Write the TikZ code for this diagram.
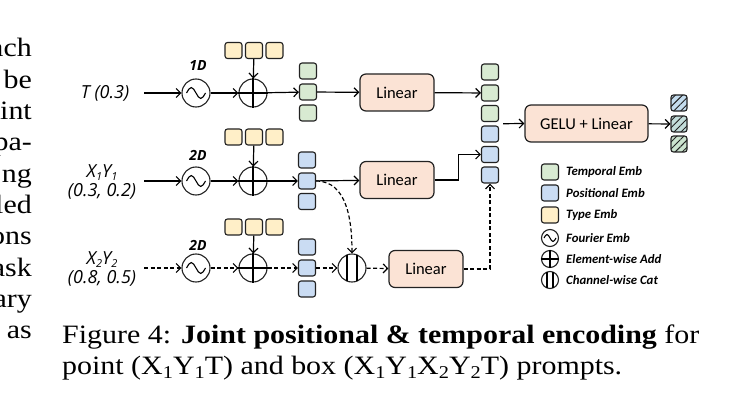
\documentclass[tikz,border=0pt]{standalone}
\usepackage{fontspec}
\setmainfont{Liberation Serif}
\newfontfamily\diafont{Carlito}
\newfontfamily\handfont{Open Sans}
\newfontfamily\capfont[FakeStretch=1.13]{Liberation Serif}
\usetikzlibrary{arrows.meta,calc,patterns.meta}
\definecolor{edge}{HTML}{222222}
\definecolor{tempc}{HTML}{D8EAD2}
\definecolor{posc}{HTML}{CADCF3}
\definecolor{typec}{HTML}{FFEFC8}
\definecolor{linc}{HTML}{FBE3D5}
\definecolor{outa}{HTML}{C4DCEE}
\definecolor{outb}{HTML}{C3DDDA}
\definecolor{outc}{HTML}{CBE3CE}
\newcommand\subn[1]{\raisebox{-3pt}{\fontsize{11}{11}\selectfont#1}}
\newcommand\csub[1]{\raisebox{-4.5pt}{\fontsize{18}{18}\selectfont#1}}
\newcommand\fwave[3]{\draw[line width=1.1pt] ($(#1)+(-#2,0)$) sin ++(#2/2,-#3) cos ++(#2/2,#3) sin ++(#2/2,#3) cos ++(#2/2,-#3);}
\tikzset{
  emb/.style={draw=edge, line width=1.1pt, rounded corners=2.5pt, minimum width=17pt, minimum height=16pt, inner sep=0pt},
  tmpemb/.style={emb, fill=tempc},
  posemb/.style={emb, fill=posc},
  typemb/.style={emb, fill=typec},
  outemb/.style={emb, minimum width=16pt, preaction={fill=#1}, pattern={Lines[angle=45,distance=5pt,line width=0.9pt]}, pattern color=edge},
  linbox/.style={draw=edge, fill=linc, line width=1.2pt, rounded corners=6pt, minimum width=74pt, minimum height=37pt, font=\diafont\fontsize{16.5}{16.5}\selectfont},
  op/.style={circle, draw=edge, line width=1.1pt, minimum size=28pt, inner sep=0pt},
  lop/.style={op, minimum size=17pt},
  arr/.style={draw=black, line width=1.2pt, -{Straight Barb[length=4.5pt,width=9pt]}},
  darr/.style={arr, dash pattern=on 4pt off 2.5pt},
  lab/.style={font=\handfont\itshape\fontsize{18}{19}\selectfont, align=center, inner sep=0pt},
  dimlab/.style={font=\handfont\bfseries\itshape\fontsize{14}{14}\selectfont, inner sep=0pt},
  legtxt/.style={anchor=west, font=\diafont\bfseries\itshape\fontsize{12.8}{12.8}\selectfont, inner sep=0pt},
  body/.style={font=\capfont\fontsize{26.5}{31}\selectfont, inner sep=0pt},
}
\begin{document}
\begin{tikzpicture}[x=1pt,y=-1pt]
  \useasboundingbox (0,0) rectangle (745,417);

  % neighbouring column
  \node[body,anchor=base east] at (32,57) {ach};
  \node[body,anchor=base east] at (32,88.3) {be};
  \node[body,anchor=base east] at (32,119.6) {int};
  \node[body,anchor=base east] at (32,150.9) {pa-};
  \node[body,anchor=base east] at (32,182.2) {ng};
  \node[body,anchor=base east] at (32,213.5) {led};
  \node[body,anchor=base east] at (32,244.8) {ons};
  \node[body,anchor=base east] at (32,276.1) {ask};
  \node[body,anchor=base east] at (32,307.4) {ary};
  \node[body,anchor=base east] at (32,338.7) {as};

  % temporal row
  \node[lab] (t) at (105,93) {T (0.3)};
  \node[op] (f1) at (196,93) {};
  \fwave{f1}{9.5}{5.5}
  \node[dimlab] at (198,66) {1D};
  \node[op] (a1) at (253,93) {};
  \draw[line width=1.1pt] (a1.north) -- (a1.south) (a1.west) -- (a1.east);
  \node[typemb] (y1a) at (233.5,50.5) {};
  \node[typemb] (y1b) at (254,50.5) {};
  \node[typemb] (y1c) at (274.5,50.5) {};
  \node[tmpemb] (g1a) at (308,71) {};
  \node[tmpemb] (g1b) at (308,92) {};
  \node[tmpemb] (g1c) at (308,113) {};
  \node[linbox] (lin1) at (397,92.5) {Linear};

  % first point row
  \node[lab] (p1) at (102,181.5) {X\subn{1}Y\subn{1}\\(0.3, 0.2)};
  \node[op] (f2) at (196,181) {};
  \fwave{f2}{9.5}{5.5}
  \node[dimlab] at (198,155) {2D};
  \node[op] (a2) at (253,181) {};
  \draw[line width=1.1pt] (a2.north) -- (a2.south) (a2.west) -- (a2.east);
  \node[typemb] (y2a) at (233.5,137) {};
  \node[typemb] (y2b) at (254,137) {};
  \node[typemb] (y2c) at (274.5,137) {};
  \node[posemb] (b2a) at (307,160) {};
  \node[posemb] (b2b) at (307,181) {};
  \node[posemb] (b2c) at (307,201.5) {};
  \node[linbox] (lin2) at (397,180) {Linear};

  % second point row
  \node[lab] (p2) at (102,268.5) {X\subn{2}Y\subn{2}\\(0.8, 0.5)};
  \node[op] (f3) at (196,268) {};
  \fwave{f3}{9.5}{5.5}
  \node[dimlab] at (198,245) {2D};
  \node[op] (a3) at (253,268) {};
  \draw[line width=1.1pt] (a3.north) -- (a3.south) (a3.west) -- (a3.east);
  \node[typemb] (y3a) at (233.5,227) {};
  \node[typemb] (y3b) at (254,227) {};
  \node[typemb] (y3c) at (274.5,227) {};
  \node[posemb] (b3a) at (307,247) {};
  \node[posemb] (b3b) at (307,268) {};
  \node[posemb] (b3c) at (307,289) {};
  \node[op] (x3) at (352,268) {};
  \draw[line width=1.1pt] ($(x3)+(-5,-13)$) -- ($(x3)+(-5,13)$) ($(x3)+(5,-13)$) -- ($(x3)+(5,13)$);
  \node[linbox] (lin3) at (426,269) {Linear};

  % joint stack and head
  \node[tmpemb] (c1) at (490,72) {};
  \node[tmpemb] (c2) at (490,93) {};
  \node[tmpemb] (c3) at (490,113.5) {};
  \node[posemb] (c4) at (490,134) {};
  \node[posemb] (c5) at (490,154.5) {};
  \node[posemb] (c6) at (490,175) {};
  \coordinate (cm) at ($(c3.east)!0.5!(c4.east)$);
  \node[linbox,minimum width=123pt] (gelu) at (586.5,123.5) {GELU + Linear};
  \node[outemb=outa] (h1) at (679,103) {};
  \node[outemb=outb] (h2) at (679,124) {};
  \node[outemb=outc] (h3) at (679,144) {};

  % connectors
  \draw[arr,shorten <=15pt] (t) -- (f1);
  \draw[arr] (f1) -- (a1);
  \draw[arr] (y1b) -- (a1);
  \draw[arr] (a1) -- (g1b);
  \draw[arr] (g1b) -- (lin1);
  \draw[arr] (lin1) -- (c2);
  \draw[arr,shorten <=8pt] (p1.east |- f2) -- (f2);
  \draw[arr] (f2) -- (a2);
  \draw[arr] (y2b) -- (a2);
  \draw[arr] (a2) -- (b2b);
  \draw[arr] (b2b) -- (lin2);
  \draw[arr] (lin2.east) -- ++(24,0) |- (c5.west);
  \draw[darr] (b2b.east) to[out=0,in=90] (x3.north);
  \draw[darr,shorten <=8pt] (p2.east |- f3) -- (f3);
  \draw[darr] (f3) -- (a3);
  \draw[arr] (y3b) -- (a3);
  \draw[darr] (a3) -- (b3b);
  \draw[darr] (b3b) -- (x3);
  \draw[darr] (x3) -- (lin3);
  \draw[darr] (lin3.east) -| (c6.south);
  \draw[arr,shorten <=4pt] (cm) -- (gelu.west);
  \draw[arr] (gelu) -- (h2);

  % legend
  \node[tmpemb] (k1) at (550,172) {};
  \node[posemb] (k2) at (550,193) {};
  \node[typemb] (k3) at (550,215) {};
  \node[lop] (k4) at (550,238) {};
  \fwave{k4}{6}{3.5}
  \node[lop] (k5) at (550,259) {};
  \draw[line width=1.1pt] (k5.north) -- (k5.south) (k5.west) -- (k5.east);
  \node[lop] (k6) at (550,280) {};
  \draw[line width=1.1pt] ($(k6)+(-3,-7.6)$) -- ($(k6)+(-3,7.6)$) ($(k6)+(3,-7.6)$) -- ($(k6)+(3,7.6)$);
  \node[legtxt] at (566,172) {Temporal Emb};
  \node[legtxt] at (566,193) {Positional Emb};
  \node[legtxt] at (566,215) {Type Emb};
  \node[legtxt] at (566,238) {Fourier Emb};
  \node[legtxt] at (566,259) {Element-wise Add};
  \node[legtxt] at (566,280) {Channel-wise Cat};

  % caption
  \node[body,anchor=base west] (cap1) at (62,343) {Figure 4: \textbf{Joint positional \& temporal encoding} for};
  \node[body,anchor=base west] (cap2) at (62,374) {point (X\csub{1}Y\csub{1}T) and box (X\csub{1}Y\csub{1}X\csub{2}Y\csub{2}T) prompts.};
\end{tikzpicture}
\end{document}
